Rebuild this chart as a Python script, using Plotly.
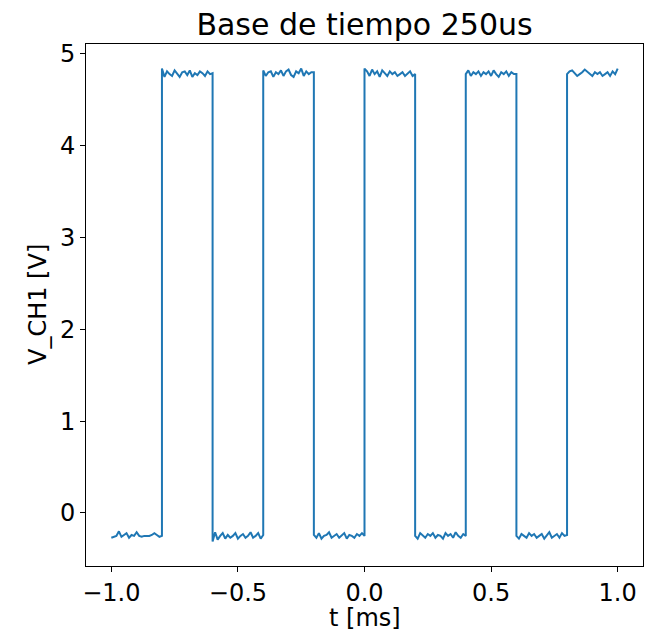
import plotly.graph_objects as go

# segment boundaries (ms) and sample step inside each segment
edges = [-1.0, -0.8, -0.6, -0.4, -0.2, 0.0, 0.2, 0.4, 0.6, 0.8, 1.0]
step_ms = 0.01

# voltage readings (V) for each segment, 21 samples each
low1 = [-0.27,-0.26,-0.25,-0.20,-0.26,-0.24,-0.22,-0.27,-0.24,-0.25,-0.21,-0.25,-0.26,-0.25,-0.25,-0.25,-0.24,-0.22,-0.24,-0.26,-0.25]
high1 = [4.84,4.75,4.81,4.78,4.76,4.82,4.78,4.75,4.80,4.81,4.77,4.82,4.75,4.79,4.77,4.81,4.79,4.76,4.81,4.78,4.79]
low2 = [-0.31,-0.21,-0.29,-0.25,-0.22,-0.28,-0.24,-0.27,-0.25,-0.22,-0.28,-0.25,-0.23,-0.27,-0.25,-0.21,-0.27,-0.25,-0.22,-0.28,-0.24]
high2 = [4.82,4.76,4.80,4.81,4.75,4.80,4.78,4.82,4.76,4.81,4.83,4.77,4.75,4.81,4.79,4.84,4.76,4.81,4.78,4.80,4.80]
low3 = [-0.24,-0.27,-0.22,-0.28,-0.25,-0.24,-0.21,-0.27,-0.25,-0.23,-0.27,-0.25,-0.22,-0.28,-0.24,-0.25,-0.27,-0.23,-0.25,-0.22,-0.25]
high3 = [4.84,4.81,4.76,4.83,4.78,4.81,4.75,4.82,4.79,4.76,4.81,4.78,4.80,4.76,4.78,4.80,4.76,4.78,4.81,4.76,4.78]
low4 = [-0.25,-0.28,-0.22,-0.25,-0.27,-0.23,-0.25,-0.22,-0.27,-0.24,-0.25,-0.28,-0.22,-0.25,-0.23,-0.27,-0.21,-0.25,-0.27,-0.23,-0.25]
high4 = [4.78,4.82,4.76,4.80,4.78,4.81,4.76,4.80,4.78,4.81,4.76,4.82,4.78,4.75,4.80,4.78,4.81,4.76,4.80,4.78,4.78]
low5 = [-0.25,-0.28,-0.23,-0.25,-0.27,-0.22,-0.25,-0.23,-0.27,-0.25,-0.23,-0.28,-0.25,-0.21,-0.27,-0.25,-0.23,-0.27,-0.22,-0.25,-0.24]
high5 = [4.78,4.81,4.82,4.79,4.76,4.78,4.80,4.83,4.81,4.78,4.76,4.80,4.78,4.80,4.76,4.78,4.80,4.76,4.81,4.78,4.84]

segments = [low1, high1, low2, high2, low3, high3, low4, high4, low5, high5]

title_text = "Base de tiempo 250us"
x_label = "t [ms]"
y_label = "V_CH1 [V]"
x_ticks = [-1.0, -0.5, 0.0, 0.5, 1.0]
x_ticktext = ["\u22121.0", "\u22120.5", "0.0", "0.5", "1.0"]
y_ticks = [0, 1, 2, 3, 4, 5]

t, v = [], []
for i, seg in enumerate(segments):
    for k, val in enumerate(seg):
        t.append(round(edges[i] + k * step_ms, 4))
        v.append(val)

fig = go.Figure(go.Scatter(x=t, y=v, mode="lines",
                           line=dict(color="#1f77b4", width=2)))

# page body adds an 8px offset; size the figure so it fits the window
OFF = 8
W, H = 662 - OFF, 633 - OFF
L, R, T, B = 86 - OFF, 19, 44 - OFF, 67
pw, ph = W - L - R, H - T - B

font = "DejaVu Sans"
axis_common = dict(showline=True, mirror=True, linecolor="black", linewidth=1,
                   ticks="outside", ticklen=5, tickwidth=1, tickcolor="black",
                   showgrid=False, zeroline=False, automargin=False,
                   tickfont=dict(family=font, size=24, color="black"))

fig.update_layout(
    width=W, height=H,
    margin=dict(l=L, r=R, t=T, b=B),
    paper_bgcolor="white", plot_bgcolor="white",
    showlegend=False,
    title=dict(text=title_text, x=(L + pw / 2) / W, xanchor="center",
               y=1 - (24 - OFF) / H, yanchor="middle",
               font=dict(family=font, size=30, color="black")),
    xaxis=dict(range=[-1.1, 1.1], tickvals=x_ticks, ticktext=x_ticktext,
               **axis_common),
    yaxis=dict(range=[-0.578, 5.108], tickvals=y_ticks, **axis_common),
    annotations=[
        dict(text=x_label, xref="paper", yref="paper", x=0.5,
             y=-(618 - OFF - (T + ph)) / ph, xanchor="center", yanchor="middle",
             showarrow=False, font=dict(family=font, size=24, color="black")),
        dict(text=y_label, xref="paper", yref="paper", x=(38 - 86) / pw,
             y=0.5, xanchor="center", yanchor="middle", textangle=-90,
             showarrow=False, font=dict(family=font, size=24, color="black")),
    ],
)

fig.write_html("out.html")
